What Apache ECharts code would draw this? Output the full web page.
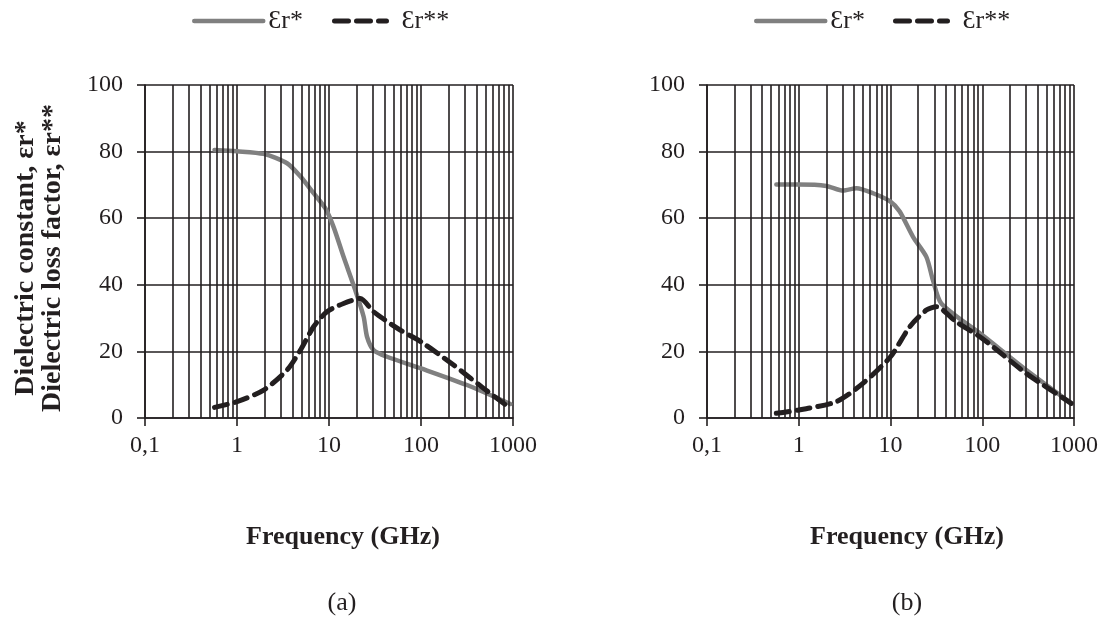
<!DOCTYPE html>
<html>
<head>
<meta charset="utf-8">
<script src="https://cdn.jsdelivr.net/npm/echarts@6/dist/echarts.min.js"></script>
<style>html,body{margin:0;padding:0;background:#fff;}#c{width:1113px;height:625px;}</style>
</head>
<body>
<div id="c"></div>
<script>
// ---- data ----
var nameReal = 'Ɛr*';
var nameLoss = 'Ɛr**';
var yTicks = [0, 20, 40, 60, 80, 100];
var xTickLabels = ['0,1', '1', '10', '100', '1000'];
var minorGridFreq = [0.2,0.3,0.4,0.5,0.6,0.7,0.8,0.9, 2,3,4,5,6,7,8,9, 20,30,40,50,60,70,80,90, 200,300,400,500,600,700,800,900];

// (a)
var aRealFreq = [0.57, 1, 1.95, 3.5, 4.9, 6.8, 9.1, 11.2, 14.4, 19.3, 23.8, 25.9, 30.5, 42.7, 100, 316, 935];
var aRealVal  = [80.5, 80.1, 79.3, 76.5, 72.5, 67.5, 63, 57.4, 48.4, 38.4, 30.4, 24.4, 20.4, 18.4, 14.9, 9.9, 4.2];
var aLossFreq = [0.57, 1, 1.95, 3.5, 4.9, 6.8, 9.5, 14.4, 21.9, 30.5, 59.6, 100, 226, 479, 935];
var aLossVal  = [3.2, 4.9, 8.4, 14.4, 20.4, 27.4, 31.9, 34.4, 35.9, 31.9, 26.4, 22.9, 15.9, 8.9, 2.9];

// (b)
var bRealFreq = [0.57, 1, 2.0, 3.04, 4.25, 6.45, 10, 12.6, 17.6, 24.6, 29, 35.8, 100, 302, 933];
var bRealVal  = [70.1, 70.1, 69.7, 68.3, 69, 67.5, 65, 62, 54.4, 48.4, 41.4, 34.4, 24.9, 14.4, 4.4];
var bLossFreq = [0.57, 1, 2.57, 5.0, 10, 16.2, 24.6, 31.6, 52, 100, 302, 933];
var bLossVal  = [1.4, 2.4, 4.9, 10.4, 18.4, 27.4, 32.4, 33.4, 28.9, 23.9, 13.4, 4.4];

function pairs(xs, ys) { return xs.map(function (x, i) { return [x, ys[i]]; }); }

var FONT = "'Liberation Serif','Times New Roman',serif";
var INK = '#231f20';
var GRAY = '#808080';
var GRIDW = 1.6;

var grids = [
  { left: 145, top: 85, width: 368, height: 333 },
  { left: 707, top: 85, width: 367, height: 333 }
];

function xAxisFor(i) {
  return {
    type: 'log', logBase: 10, gridIndex: i, min: 0.1, max: 1000,
    axisLine: { show: true, lineStyle: { color: INK, width: GRIDW } },
    axisTick: { show: true, length: 8, inside: false, lineStyle: { color: INK, width: GRIDW } },
    axisLabel: {
      margin: 16, color: INK, fontFamily: FONT, fontSize: 24,
      formatter: function (v) {
        var s = String(v).replace('.', ',');
        return xTickLabels.indexOf(s) >= 0 ? s : '';
      }
    },
    splitLine: { show: true, lineStyle: { color: INK, width: GRIDW } },
    minorTick: { show: false }, minorSplitLine: { show: false }
  };
}
function yAxisFor(i) {
  return {
    type: 'value', gridIndex: i, min: 0, max: 100, interval: 20,
    axisLine: { show: true, lineStyle: { color: INK, width: GRIDW } },
    axisTick: { show: true, length: 8, inside: false, lineStyle: { color: INK, width: GRIDW } },
    axisLabel: {
      margin: 22, color: INK, fontFamily: FONT, fontSize: 24,
      formatter: function (v) { return yTicks.indexOf(v) >= 0 ? String(v) : ''; }
    },
    splitLine: { show: true, lineStyle: { color: INK, width: GRIDW } }
  };
}

function gridSeries(i) {
  return {
    type: 'line', xAxisIndex: i, yAxisIndex: i, data: [], z: 1, silent: true,
    markLine: {
      silent: true, symbol: ['none', 'none'], animation: false,
      label: { show: false },
      lineStyle: { color: INK, width: GRIDW, type: 'solid' },
      emphasis: { disabled: true },
      data: minorGridFreq.map(function (f) { return { xAxis: f }; })
    }
  };
}
function realSeries(i, xs, ys) {
  return {
    name: nameReal, type: 'line', xAxisIndex: i, yAxisIndex: i, z: 3,
    data: pairs(xs, ys), showSymbol: false, symbol: 'none', smooth: 0.25,
    lineStyle: { color: GRAY, width: 4.5, cap: 'round', join: 'round' },
    itemStyle: { color: GRAY }
  };
}
function lossSeries(i, xs, ys) {
  return {
    name: nameLoss, type: 'line', xAxisIndex: i, yAxisIndex: i, z: 4,
    data: pairs(xs, ys), showSymbol: false, symbol: 'none', smooth: 0.25,
    lineStyle: { color: INK, width: 5, type: [13, 8], cap: 'round', join: 'round' },
    itemStyle: { color: INK }
  };
}

function legendFor(name, left, w, lineStyle, textPad) {
  return {
    data: [name], left: left, top: 8, itemWidth: w, itemHeight: 24, itemGap: 0,
    padding: 0, selectedMode: false,
    itemStyle: { color: 'rgba(0,0,0,0)', opacity: 0, borderWidth: 0 },
    lineStyle: lineStyle,
    textStyle: { color: INK, fontFamily: FONT, fontSize: 26, padding: [3, 0, 0, textPad] }
  };
}
var legReal = { color: GRAY, width: 4.5, type: 'solid', cap: 'round' };
var legLoss = { color: INK, width: 5, type: [14, 8], cap: 'round', dashOffset: -3 };

var chart = echarts.init(document.getElementById('c'), null, { renderer: 'canvas' });
chart.setOption({
  animation: false,
  backgroundColor: '#fff',
  grid: grids,
  xAxis: [xAxisFor(0), xAxisFor(1)],
  yAxis: [yAxisFor(0), yAxisFor(1)],
  legend: [
    legendFor(nameReal, 192, 69, legReal, 0), legendFor(nameLoss, 329, 55, legLoss, 10),
    legendFor(nameReal, 754, 69, legReal, 0), legendFor(nameLoss, 890, 55, legLoss, 10)
  ],
  series: [
    gridSeries(0), realSeries(0, aRealFreq, aRealVal), lossSeries(0, aLossFreq, aLossVal),
    gridSeries(1), realSeries(1, bRealFreq, bRealVal), lossSeries(1, bLossFreq, bLossVal)
  ],
  graphic: [
    { type: 'text', x: 343, y: 537, style: { text: 'Frequency (GHz)', fill: INK, font: 'bold 26px ' + FONT, textAlign: 'center', textVerticalAlign: 'middle' } },
    { type: 'text', x: 907, y: 537, style: { text: 'Frequency (GHz)', fill: INK, font: 'bold 26px ' + FONT, textAlign: 'center', textVerticalAlign: 'middle' } },
    { type: 'text', x: 342, y: 603, style: { text: '(a)', fill: INK, font: '26px ' + FONT, textAlign: 'center', textVerticalAlign: 'middle' } },
    { type: 'text', x: 907, y: 603, style: { text: '(b)', fill: INK, font: '26px ' + FONT, textAlign: 'center', textVerticalAlign: 'middle' } },
    { type: 'text', x: 39, y: 258, rotation: Math.PI / 2,
      style: { text: 'Dielectric constant, εr*\nDielectric loss factor, εr**', fill: INK, font: 'bold 28px ' + FONT, lineHeight: 27, textAlign: 'center', textVerticalAlign: 'middle' } }
  ]
});
</script>
</body>
</html>
